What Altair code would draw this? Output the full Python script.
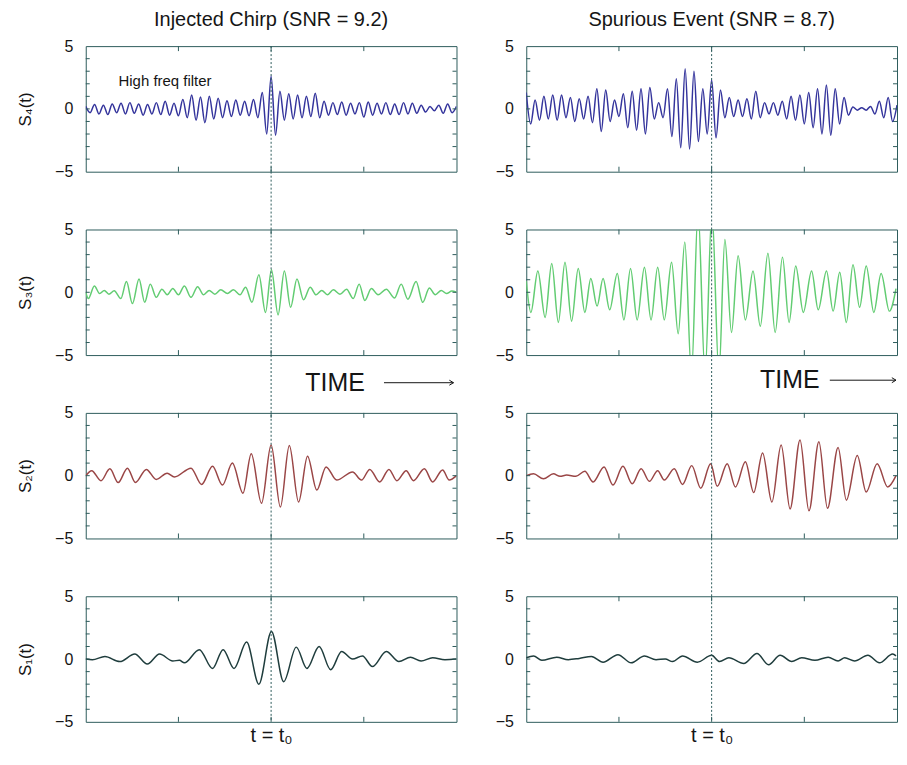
import altair as alt
import pandas as pd

# ---------------- data (extrema of each trace) ----------------
# time in arbitrary units: window 0..1120, event time t0 = 560
T_END = 1120
T_MID = 560

# S4: high-frequency traces, extrema at successive half-periods across the window
S4L_V = [0.2, -0.3, 0.35, -0.4, 0.3, -0.45, 0.4, -0.3, 0.45, -0.4,
         0.5, -0.35, 0.4, -0.5, 0.35, -0.4, 0.5, -0.45, 0.6, -0.5,
         0.45, -0.55, 0.75, -0.7, 1.1, -0.9, 0.95, -1.1, 1.0, -0.8,
         0.85, -0.7, 0.65, -0.6, 0.7, -0.5, 0.6, -0.55, 0.75, -0.7,
         1.3, -2.0, 2.6, -2.1, 1.4, -0.9, 1.2, -0.8, 1.1, -0.7,
         1.0, -0.6, 1.25, -0.7, 0.6, -0.5, 0.5, -0.45, 0.55, -0.5,
         0.45, -0.4, 0.5, -0.65, 0.55, -0.5, 0.45, -0.4, 0.5, -0.45,
         0.4, -0.45, 0.5, -0.4, 0.45, -0.35, 0.3, -0.25, 0.2, -0.15,
         0.3, -0.35, 0.4, -0.3, 0.2]
S4R_V = [1.3, -1.2, 0.7, -0.9, 1.0, -0.8, 1.1, -0.9, 1.1, -0.7,
         0.9, -1.0, 0.8, -0.8, 1.0, -1.1, 1.6, -1.8, 1.5, -1.0,
         0.7, -0.6, 1.2, -1.5, 1.4, -1.7, 1.6, -2.0, 1.7, -0.8,
         0.5, -0.7, 1.6, -2.2, 2.4, -3.1, 3.2, -3.2, 3.0, -2.6,
         1.6, -2.0, 2.3, -2.3, 1.5, -0.7, 0.9, -0.6, 0.7, -0.6,
         0.8, -0.8, 1.4, -0.7, 0.5, -0.4, 0.5, -0.5, 0.6, -0.8,
         1.0, -0.9, 1.1, -1.2, 1.3, -1.5, 1.6, -2.0, 1.9, -2.1,
         1.6, -1.2, 0.9, -0.5, 0.15, -0.1, 0.1, -0.1, 0.2, -0.4,
         0.6, -0.7, 0.9, -1.0, 0.3]

S3L_T = [0, 8, 26, 42, 56, 70, 86, 106, 123, 141, 161, 178, 195, 213, 230, 246, 263, 280, 298, 318,
         338, 356, 373, 390, 408, 428, 446, 466, 483, 502, 523, 543, 561, 581, 600, 619, 638, 658, 678, 696,
         713, 730, 748, 768, 788, 808, 826, 843, 863, 883, 908, 933, 953, 973, 998, 1018, 1038, 1056, 1074, 1090,
         1106, 1120]
S3L_V = [0.0, -0.5, 0.5, -0.1, 0.15, -0.15, 0.12, -0.5, 0.85, -0.9, 1.05, -0.8, 0.65, -0.4, 0.25, -0.2, 0.3, -0.2, 0.5, -0.4,
         0.45, -0.2, 0.15, -0.15, 0.2, -0.1, 0.2, -0.2, 0.4, -0.8, 1.4, -1.6, 1.8, -1.8, 1.7, -1.2, 1.05, -0.6, 0.4, -0.2,
         0.15, -0.2, 0.2, -0.15, 0.25, -0.5, 0.65, -0.65, 0.3, -0.2, 0.25, -0.45, 0.65, -0.55, 0.85, -0.8, 0.35, -0.2, 0.15, -0.1,
         0.1, 0.0]

S3R_T = [0, 14, 35, 57, 77, 97, 117, 137, 157, 177, 195, 214, 232, 252, 275, 295, 315, 335, 357, 377,
         397, 417, 439, 459, 479, 499, 519, 540, 561, 582, 600, 620, 640, 662, 685, 707, 730, 752, 774, 794,
         814, 837, 862, 882, 907, 927, 947, 967, 987, 1007, 1027, 1050, 1072, 1097, 1117]
S3R_V = [0.9, -1.6, 1.7, -2.0, 2.3, -2.4, 2.4, -2.3, 1.9, -1.6, 1.1, -1.1, 1.1, -1.4, 1.5, -2.2, 1.9, -2.2, 2.0, -2.2,
         2.0, -2.2, 2.4, -3.3, 4.0, -6.5, 6.5, -6.5, 6.5, -6.5, 4.2, -3.2, 2.9, -2.2, 1.7, -2.7, 3.1, -3.2, 2.8, -2.4,
         2.1, -1.6, 1.7, -1.4, 1.7, -1.5, 1.6, -2.4, 2.2, -1.2, 2.1, -1.6, 1.5, -1.5, 0.3]

S2L_T = [0, 18, 46, 73, 98, 126, 150, 183, 213, 246, 268, 318, 350, 383, 413, 443, 475, 500, 531, 560,
         588, 615, 643, 670, 698, 726, 758, 806, 833, 858, 888, 916, 940, 968, 990, 1023, 1048, 1078, 1098, 1120]
S2L_V = [0.0, 0.4, -0.4, 0.55, -0.55, 0.6, -0.55, 0.5, -0.3, 0.2, -0.1, 0.6, -0.7, 0.75, -0.75, 1.0, -1.4, 1.75, -2.2, 2.45,
         -2.5, 2.4, -2.1, 1.55, -1.15, 0.7, -0.35, 0.3, -0.35, 0.5, -0.5, 0.5, -0.4, 0.4, -0.4, 0.55, -0.5, 0.45, -0.35, 0.0]

S2R_T = [0, 22, 52, 82, 102, 122, 150, 177, 202, 235, 262, 292, 320, 347, 372, 397, 417, 447, 472, 500,
         527, 557, 577, 607, 632, 662, 687, 714, 742, 770, 797, 827, 854, 884, 910, 942, 967, 1000, 1027, 1060,
         1092, 1117]
S2R_V = [0.0, 0.15, -0.25, 0.15, -0.05, 0.05, -0.05, 0.35, -0.5, 0.7, -0.75, 0.75, -0.65, 0.55, -0.45, 0.4, -0.35, 0.55, -0.7, 0.8,
         -1.0, 0.95, -0.85, 0.95, -0.9, 1.1, -1.35, 1.8, -2.1, 2.45, -2.65, 2.85, -2.8, 2.7, -2.6, 2.25, -1.95, 1.6, -1.3, 0.95,
         -0.9, 0.0]

S1L_T = [0, 20, 58, 103, 148, 186, 223, 263, 283, 298, 343, 383, 415, 448, 486, 523, 561, 598, 636, 668,
         705, 740, 773, 806, 836, 866, 908, 946, 981, 1013, 1048, 1085, 1120]
S1L_V = [0.0, -0.05, 0.2, -0.2, 0.4, -0.4, 0.4, -0.15, -0.1, -0.3, 0.75, -0.75, 0.75, -0.75, 1.35, -2.0, 2.2, -1.8, 0.95, -0.75,
         1.0, -0.85, 0.6, 0.0, 0.25, -0.6, 0.6, -0.2, 0.15, -0.15, 0.1, -0.05, 0.0]

S1R_T = [0, 22, 47, 92, 127, 160, 197, 232, 277, 317, 357, 392, 420, 442, 472, 517, 560, 584, 612, 657,
         697, 732, 767, 802, 832, 872, 912, 942, 962, 992, 1032, 1067, 1107, 1117]
S1R_V = [0.1, 0.25, -0.1, 0.15, -0.05, 0.05, 0.2, -0.25, 0.35, -0.3, 0.25, -0.05, 0.0, -0.2, 0.25, -0.25, 0.3, -0.2, 0.1, -0.35,
         0.45, -0.45, 0.3, -0.2, 0.1, -0.1, 0.15, -0.15, 0.1, -0.15, 0.3, -0.3, 0.4, 0.25]

Y_LABELS = [-5, 0, 5]
Y_MINOR = [-4, -3, -2, -1, 0, 1, 2, 3, 4]
X_MINOR = [280, 560, 840]

COL_TITLES = ["Injected Chirp (SNR = 9.2)", "Spurious Event (SNR = 8.7)"]
ROW_TITLES = ["S\u2084(t)", "S\u2083(t)", "S\u2082(t)", "S\u2081(t)"]
BOTTOM_LABELS = ["t = t\u2080", "t = t\u2080"]
COLORS = ["#34349c", "#62cc72", "#9a4646", "#1f3d3d"]

# ---------------- style ----------------
W, H = 372, 126
VGAP, HGAP = 58, 37
TICK = 4
FRAME = "#2e5c5c"
TXT = "#151515"
FONT = "Liberation Sans"

xs = alt.Scale(domain=[0, T_END], nice=False, zero=False)
ys = alt.Scale(domain=[-5, 5], nice=False, zero=False)


def s4_times(vals):
    step = T_END / (len(vals) - 1)
    return [i * step for i in range(len(vals))]


SERIES = [
    [(s4_times(S4L_V), S4L_V), (s4_times(S4R_V), S4R_V)],
    [(S3L_T, S3L_V), (S3R_T, S3R_V)],
    [(S2L_T, S2L_V), (S2R_T, S2R_V)],
    [(S1L_T, S1L_V), (S1R_T, S1R_V)],
]


def panel(row, col):
    t, v = SERIES[row][col]
    df = pd.DataFrame({"t": t, "v": v})
    yaxis = alt.Axis(values=Y_LABELS, ticks=False, domain=False, grid=False,
                     labelPadding=13, labelFontSize=16, labelFont=FONT, labelColor=TXT,
                     titleFontSize=17, titleFont=FONT, titleFontWeight="normal",
                     titleColor=TXT, titlePadding=20)
    ytitle = ROW_TITLES[row] if col == 0 else None
    Y = alt.Y("v:Q", scale=ys, axis=yaxis, title=ytitle)
    if row == 3:
        xaxis = alt.Axis(labels=False, ticks=False, domain=False, grid=False,
                         titleFontSize=20, titleFont=FONT, titleFontWeight="normal",
                         titleColor=TXT, titlePadding=4)
        X = alt.X("t:Q", scale=xs, axis=xaxis, title=BOTTOM_LABELS[col])
    else:
        X = alt.X("t:Q", scale=xs, axis=None)

    line = alt.Chart(df).mark_line(
        color=COLORS[row], strokeWidth=1.5, interpolate="monotone", clip=True
    ).encode(x=X, y=Y)

    ydf = pd.DataFrame({"v": Y_MINOR})
    xdf = pd.DataFrame({"t": X_MINOR})
    yb = alt.Chart(ydf).mark_rule(color=FRAME, strokeWidth=1)
    yl = yb.encode(y=Y, x=alt.value(0), x2=alt.value(TICK))
    yr = yb.encode(y=Y, x=alt.value(W - TICK), x2=alt.value(W))
    xb = alt.Chart(xdf).mark_rule(color=FRAME, strokeWidth=1)
    xt = xb.encode(x=X, y=alt.value(0), y2=alt.value(TICK + 1))
    xbt = xb.encode(x=X, y=alt.value(H - TICK - 1), y2=alt.value(H))

    cdf = pd.DataFrame({"t": [T_MID]})
    top = 0 if row == 0 else -VGAP
    center = alt.Chart(cdf).mark_rule(color=FRAME, strokeWidth=1, strokeDash=[2, 2]).encode(
        x=X, y=alt.value(top), y2=alt.value(H))

    layers = [line, yl, yr, xt, xbt, center]

    if row == 0 and col == 0:
        adf = pd.DataFrame({"t": [99], "v": [2.2], "label": ["High freq filter"]})
        layers.append(alt.Chart(adf).mark_text(
            align="left", baseline="middle", fontSize=15, font=FONT, color=TXT
        ).encode(x=X, y=Y, text="label:N"))

    if row == 1:
        if col == 0:
            tt, tv, a0, a1 = 753, -7.2, 901, 1111
        else:
            tt, tv, a0, a1 = 796, -7.0, 917, 1117
        tdf = pd.DataFrame({"t": [tt], "v": [tv], "label": ["TIME"]})
        layers.append(alt.Chart(tdf).mark_text(
            align="center", baseline="middle", fontSize=25, font=FONT, color=TXT
        ).encode(x=X, y=Y, text="label:N"))
        arr = pd.DataFrame({"t": [a0], "t1": [a1], "v": [tv]})
        layers.append(alt.Chart(arr).mark_rule(color=TXT, strokeWidth=1).encode(
            x=X, x2="t1:Q", y=Y))
        head = pd.DataFrame({"t": [a1], "v": [tv]})
        layers.append(alt.Chart(head).mark_point(
            shape="M-1,-0.6L0,0L-1,0.6", filled=False, size=70, color=TXT, strokeWidth=1, opacity=1
        ).encode(x=X, y=Y))

    ch = alt.layer(*layers).properties(width=W, height=H)
    if row == 0:
        ch = ch.properties(title=alt.TitleParams(
            text=COL_TITLES[col], fontSize=20, font=FONT, fontWeight="normal",
            color=TXT, anchor="middle", offset=8))
    return ch


cols = []
for c in range(2):
    cols.append(alt.vconcat(*[panel(r, c) for r in range(4)], spacing=VGAP, bounds="flush"))

chart = alt.hconcat(*cols, spacing=HGAP).properties(
    padding={"left": 8, "top": 0, "right": 0, "bottom": 0}
).configure_view(stroke=FRAME, strokeWidth=1)

chart.save("out.html", embed_options={"renderer": "svg", "actions": False})
